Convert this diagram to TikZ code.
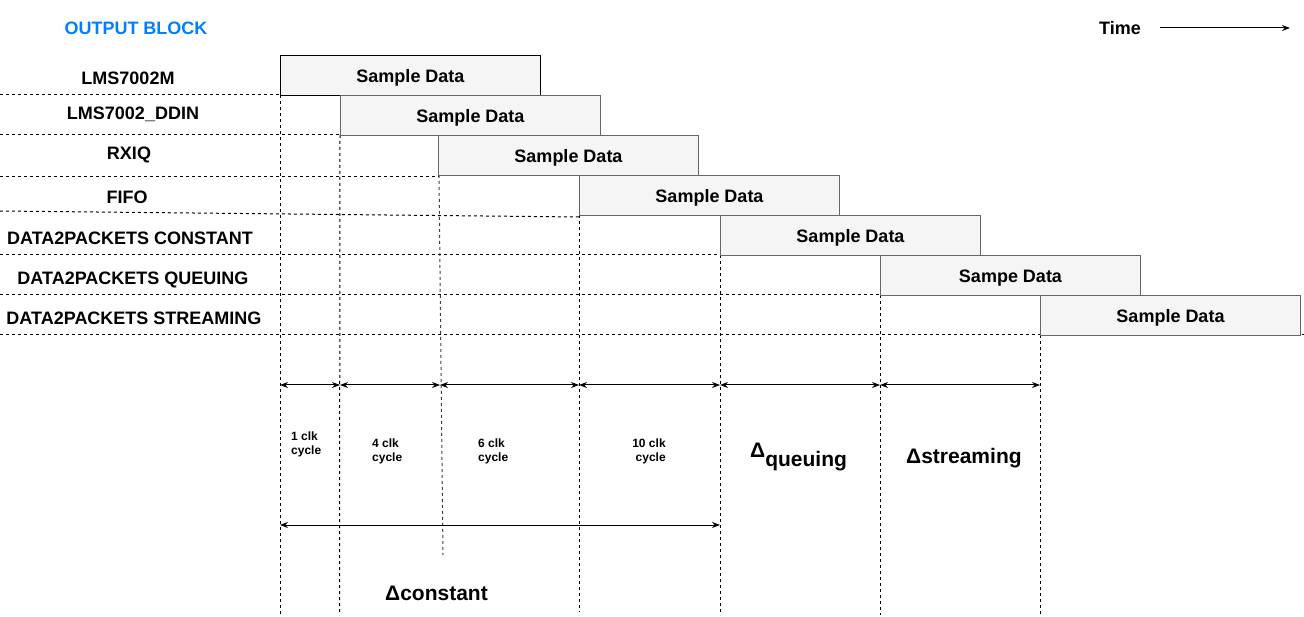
\documentclass[tikz,border=0pt]{standalone}
\usepackage{fontspec}
\setmainfont{Liberation Sans}
\usetikzlibrary{arrows.meta}
\definecolor{boxfill}{HTML}{F5F5F5}
\definecolor{boxline}{HTML}{666666}
\definecolor{titleblue}{HTML}{007FFF}
\tikzset{
  px/.style={x=1pt,y=-1pt},
  databox/.style={draw=boxline,fill=boxfill,line width=1pt,minimum width=260pt,minimum height=40pt,inner sep=0pt,anchor=north west,text height=14pt,text depth=0pt,font=\fontsize{18}{21}\selectfont\bfseries},
  rowlabel/.style={font=\fontsize{18}{21}\selectfont\bfseries,inner sep=0pt,text height=13pt,text depth=0pt},
  smalllabel/.style={font=\fontsize{12}{14}\selectfont\bfseries,inner sep=0pt,align=left},
  deltalabel/.style={font=\fontsize{21}{24}\selectfont\bfseries,inner sep=0pt},
  grid/.style={dash pattern=on 3pt off 3pt,line width=1pt,black},
  gridgray/.style={dash pattern=on 3pt off 3pt,line width=1pt,black!75},
  span/.style={{Stealth[length=8pt,width=6pt]}-{Stealth[length=8pt,width=6pt]},line width=1pt},
}
\begin{document}
\begin{tikzpicture}[px]
\useasboundingbox (0,0) rectangle (1304,617);
% titles
\node[rowlabel,text=titleblue] (title) at (136,28) {OUTPUT BLOCK};
\node[rowlabel,anchor=west] (time) at (1099,28) {Time};
\coordinate (tstart) at (1160,28);
\coordinate (tend) at (1290,28);
\draw[-{Stealth[length=8pt,width=6pt]},line width=1pt] (tstart) -- (tend);
% row labels
\node[rowlabel] (r1) at (128,78) {LMS7002M};
\node[rowlabel] (r2) at (133,113) {LMS7002\_DDIN};
\node[rowlabel] (r3) at (129,153) {RXIQ};
\node[rowlabel] (r4) at (127,197) {FIFO};
\node[rowlabel] (r5) at (130,238) {DATA2PACKETS CONSTANT};
\node[rowlabel] (r6) at (133,278) {DATA2PACKETS QUEUING};
\node[rowlabel] (r7) at (134,318) {DATA2PACKETS STREAMING};
% horizontal dashed lines
\coordinate (h1a) at (0,95);   \coordinate (h1b) at (280,95);
\coordinate (h2a) at (0,135);  \coordinate (h2b) at (340,135);
\coordinate (h3a) at (0,177);  \coordinate (h3b) at (439,177);
\coordinate (h4a) at (0,211);  \coordinate (h4b) at (579,217);
\coordinate (h5a) at (0,255);  \coordinate (h5b) at (720,255);
\coordinate (h6a) at (0,295);  \coordinate (h6b) at (880,295);
\coordinate (h7a) at (0,335);  \coordinate (h7b) at (1304,335);
\draw[grid] (h1a) -- (h1b);
\draw[grid] (h2a) -- (h2b);
\draw[grid] (h3a) -- (h3b);
\draw[grid] (h4a) -- (h4b);
\draw[grid] (h5a) -- (h5b);
\draw[grid] (h6a) -- (h6b);
\draw[grid] (h7a) -- (h7b);
% vertical dashed lines
\coordinate (v1a) at (280,95);   \coordinate (v1b) at (280,615);
\coordinate (v2a) at (340,135);  \coordinate (v2b) at (339.5,615);
\coordinate (v3a) at (439,175);  \coordinate (v3b) at (443,555);
\coordinate (v4a) at (579,215);  \coordinate (v4b) at (579,612);
\coordinate (v5a) at (720,255);  \coordinate (v5b) at (720,615);
\coordinate (v6a) at (880,295);  \coordinate (v6b) at (880,615);
\coordinate (v7a) at (1040,335); \coordinate (v7b) at (1040,615);
\draw[grid] (v1a) -- (v1b);
\draw[grid] (v2a) -- (v2b);
\draw[gridgray] (v3a) -- (v3b);
\draw[grid] (v4a) -- (v4b);
\draw[grid] (v5a) -- (v5b);
\draw[grid] (v6a) -- (v6b);
\draw[grid] (v7a) -- (v7b);
% sample data boxes
\node[databox,draw=black] (b1) at (280,55) {Sample Data};
\node[databox] (b2) at (340,95) {Sample Data};
\node[databox] (b3) at (438,135) {Sample Data};
\node[databox] (b4) at (579,175) {Sample Data};
\node[databox] (b5) at (720,215) {Sample Data};
\node[databox] (b6) at (880,255) {Sampe Data};
\node[databox] (b7) at (1040,295) {Sample Data};
% span arrows
\coordinate (a0) at (280,385);
\coordinate (a1) at (340,385);
\coordinate (a2) at (440,385);
\coordinate (a3) at (579,385);
\coordinate (a4) at (720,385);
\coordinate (a5) at (880,385);
\coordinate (a6) at (1040,385);
\draw[span] (a0) -- (a1);
\draw[span] (a1) -- (a2);
\draw[span] (a2) -- (a3);
\draw[span] (a3) -- (a4);
\draw[span] (a4) -- (a5);
\draw[span] (a5) -- (a6);
\coordinate (c0) at (280,525);
\coordinate (c1) at (720,525);
\draw[span] (c0) -- (c1);
% cycle labels
\node[smalllabel,anchor=west] (l1) at (291,444.5) {1 clk\\cycle};
\node[smalllabel,anchor=west] (l2) at (372,451) {4 clk\\cycle};
\node[smalllabel,anchor=west] (l3) at (478,451) {6 clk\\cycle};
\node[smalllabel,align=center] (l4) at (649,451) {10 clk\\\ cycle};
% delta labels
\node[deltalabel,anchor=base west] (dq) at (750,457) {Δ\raisebox{-9pt}{queuing}};
\node[deltalabel,anchor=base west] (ds) at (906,463) {Δstreaming};
\node[deltalabel,anchor=base west] (dc) at (385,600) {Δconstant};
\end{tikzpicture}
\end{document}
